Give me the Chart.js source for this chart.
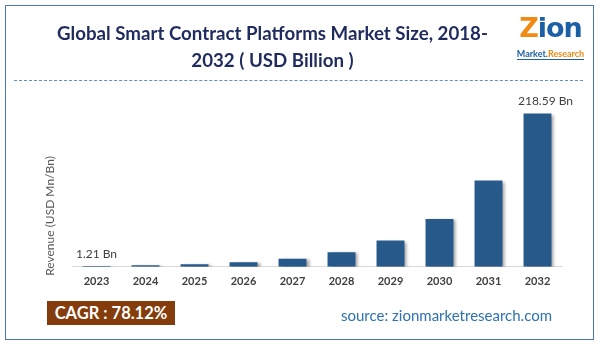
<!DOCTYPE html>
<html>
<head>
<meta charset="utf-8">
<script src="https://cdn.jsdelivr.net/npm/chart.js@4"></script>
<style>
  html, body { margin: 0; padding: 0; background: #fff; }
  #wrap { position: relative; width: 600px; height: 344px; overflow: hidden; font-family: Lato, "Open Sans", sans-serif; }
  #chart { position: absolute; left: 0; top: 0; }
  .frame { position: absolute; left: 5px; top: 5px; width: 589px; height: 335px; border: 1.6px solid #4a78ad; box-sizing: border-box; }
  .title { position: absolute; left: 30px; width: 485px; text-align: center; font-weight: bold; font-size: 18.7px; color: #1f2b5e; line-height: 27px; top: 20px; }
  .rule { position: absolute; left: 14px; top: 80px; width: 569px; border-top: 1px dashed #5d8fcc; }
  .logo { position: absolute; left: 515px; top: 14px; width: 71px; text-align: center; }
  .logo .big { font-size: 27px; font-weight: 900; color: #1d5fa6; line-height: 27px; letter-spacing: -1px; font-family: "DejaVu Sans", sans-serif; }
  .logo .big span { color: #f08a12; }
  .logo .small { font-size: 9px; font-weight: bold; color: #1d5fa6; line-height: 10px; border-bottom: 1.5px solid #1d5fa6; display: inline-block; }
  .logo .small span { color: #f08a12; }
  .ytitle { position: absolute; left: 49px; top: 216px; transform: translate(-50%, -50%) rotate(-90deg); font-size: 12px; color: #595959; white-space: nowrap; }
  .cagr { position: absolute; left: 47px; top: 301px; width: 128px; height: 24px; background: #843c0c; color: #fff; font-weight: bold; font-size: 16.5px; line-height: 24px; text-align: center; }
  .source { position: absolute; left: 341px; top: 306px; font-size: 15px; color: #2e72b2; white-space: nowrap; }
</style>
</head>
<body>
<div id="wrap">
  <canvas id="chart" width="600" height="344"></canvas>
  <div class="frame"></div>
  <div class="title">Global Smart Contract Platforms Market Size, 2018-<br>2032 ( USD Billion )</div>
  <div class="rule"></div>
  <div class="logo"><div class="big"><span>Z</span>ion</div><div class="small">Market.<span>Research</span></div></div>
  <div class="ytitle">Revenue (USD Mn/Bn)</div>
  <div class="cagr">CAGR : 78.12%</div>
  <div class="source">source: zionmarketresearch.com</div>
</div>
<script>
// ========== DATA ==========
const years = ['2023', '2024', '2025', '2026', '2027', '2028', '2029', '2030', '2031', '2032'];
const revenue = [1.21, 2.2, 3.8, 6.6, 11.5, 20.8, 37.5, 68, 123, 218.59];
const labelledBars = [0, 9];

// ========== PLUGINS ==========
// soft drop shadow to the right of each bar
const barShadow = {
    id: 'barShadow',
    beforeDatasetsDraw(chart) {
        const ctx = chart.ctx;
        ctx.save();
        ctx.shadowColor = 'rgba(0,0,0,0.35)';
        ctx.shadowBlur = 3;
        ctx.shadowOffsetX = 3;
        ctx.shadowOffsetY = 1;
    },
    afterDatasetsDraw(chart) {
        chart.ctx.restore();
    }
};

// value labels over the first and last bars
const valueLabels = {
    id: 'valueLabels',
    afterDraw(chart) {
        const ctx = chart.ctx;
        const meta = chart.getDatasetMeta(0);
        ctx.save();
        ctx.font = '12px Lato, sans-serif';
        ctx.fillStyle = '#404040';
        ctx.textAlign = 'center';
        ctx.textBaseline = 'bottom';
        labelledBars.forEach(i => {
            const bar = meta.data[i];
            const shift = i === years.length - 1 ? 8 : 0;
            ctx.fillText(revenue[i] + ' Bn', bar.x + shift, bar.y - 6);
        });
        ctx.restore();
    }
};

// ========== CHART ==========
new Chart(document.getElementById('chart'), {
    type: 'bar',
    data: {
        labels: years,
        datasets: [{
            data: revenue,
            backgroundColor: '#275a8a',
            barPercentage: 0.57,
            categoryPercentage: 1
        }]
    },
    options: {
        responsive: false,
        animation: false,
        events: [],
        layout: { padding: { left: 72, right: 38, top: 95, bottom: 48 } },
        plugins: { legend: { display: false }, tooltip: { enabled: false } },
        scales: {
            x: {
                grid: { display: false, drawTicks: false },
                border: { color: '#d9d9d9', width: 1 },
                ticks: { color: '#404040', padding: 8, font: { family: 'Lato', size: 11, weight: 'bold' } }
            },
            y: { display: false, min: 0, max: 245 }
        }
    },
    plugins: [barShadow, valueLabels]
});
</script>
</body>
</html>
